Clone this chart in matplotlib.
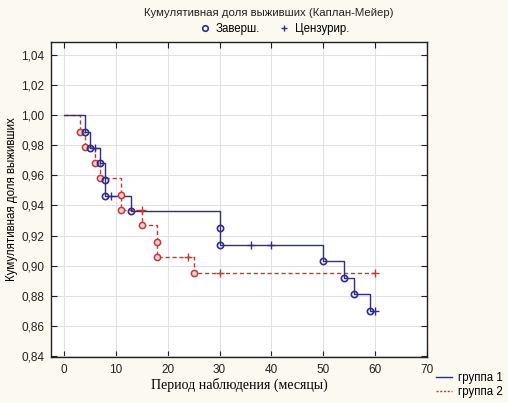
import matplotlib
matplotlib.use("Agg")
import matplotlib.pyplot as plt
from matplotlib.lines import Line2D
from matplotlib.ticker import FuncFormatter

# Group 1 (solid blue)
g1_event_t = [4, 5, 7, 8, 8, 13, 30, 30, 50, 54, 56, 59]
g1_event_s = [0.989, 0.978, 0.968, 0.957, 0.946, 0.936, 0.925, 0.914, 0.903, 0.892, 0.881, 0.870]
g1_cens_t = [6, 9, 36, 40, 60]
g1_cens_s = [0.978, 0.946, 0.914, 0.914, 0.870]
g1_end = 60

# Group 2 (dashed red)
g2_event_t = [3, 4, 6, 7, 11, 11, 15, 18, 18, 25]
g2_event_s = [0.989, 0.979, 0.968, 0.958, 0.947, 0.937, 0.927, 0.916, 0.906, 0.895]
g2_cens_t = [15, 24, 30, 60]
g2_cens_s = [0.937, 0.906, 0.895, 0.895]
g2_end = 60

x_ticks = [0, 10, 20, 30, 40, 50, 60, 70]
y_ticks = [0.84, 0.86, 0.88, 0.90, 0.92, 0.94, 0.96, 0.98, 1.00, 1.02, 1.04]

BLUE = "#2d2d8f"
RED = "#c23b3b"
SANS = "Liberation Sans"
SERIF = "Liberation Serif"

fig = plt.figure(figsize=(5.08, 4.03), dpi=100)
fig.patch.set_facecolor("#fcf9f1")
ax = fig.add_axes([51/508, 1-357/403, 376/508, 315/403])
ax.set_facecolor("white")

def steps(ts, ss, end):
    xs = [0] + list(ts) + [end]
    ys = [1.0] + list(ss) + [ss[-1]]
    return xs, ys

x2, y2 = steps(g2_event_t, g2_event_s, g2_end)
ax.step(x2, y2, where="post", color=RED, lw=1.0, ls=(0, (3, 2)), zorder=3)
x1, y1 = steps(g1_event_t, g1_event_s, g1_end)
ax.step(x1, y1, where="post", color=BLUE, lw=1.0, zorder=4)

ax.plot(g2_event_t, g2_event_s, "o", ms=4.5, mfc="#f3d0d0", mec=RED, mew=1.1, ls="none", zorder=5)
ax.plot(g2_cens_t, g2_cens_s, "+", ms=6, mec=RED, mew=1.0, ls="none", zorder=5)
ax.plot(g1_event_t, g1_event_s, "o", ms=4.5, mfc="none", mec=BLUE, mew=1.2, ls="none", zorder=6)
ax.plot(g1_cens_t, g1_cens_s, "+", ms=6, mec=BLUE, mew=1.0, ls="none", zorder=6)

ax.set_xlim(-2.5, 70)
ax.set_ylim(0.8393, 1.0486)
ax.set_xticks(x_ticks)
ax.set_yticks(y_ticks)
ax.yaxis.set_major_formatter(FuncFormatter(lambda v, p: f"{v:.2f}".replace(".", ",")))
ax.grid(True, color="#e2e2e2", lw=0.8)
ax.set_axisbelow(True)
ax.tick_params(direction="in", length=4, top=True, right=True, labelsize=8.5,
               colors="#222222", pad=5)
for lab in ax.get_xticklabels() + ax.get_yticklabels():
    lab.set_family(SANS)
for sp in ax.spines.values():
    sp.set_color("#222222")
    sp.set_linewidth(1.0)

ax.set_xlabel("Период наблюдения (месяцы)", family=SERIF, fontsize=10, labelpad=1)
ax.set_ylabel("Кумулятивная доля выживших", family=SANS, fontsize=8.3)
ax.yaxis.set_label_coords((18-51)/376, 0.5)

fig.text(0.529, 1-13/403, "Кумулятивная доля выживших (Каплан-Мейер)",
         family=SANS, fontsize=8.2, ha="center", va="center", color="#222222")

h1 = Line2D([], [], marker="o", ms=4, mfc="none", mec=BLUE, mew=1.2, ls="none")
h2 = Line2D([], [], marker="+", ms=5, mec=BLUE, mew=1.0, ls="none")
leg = fig.legend([h1, h2], ["Заверш.", "Цензурир."], loc="center",
                 bbox_to_anchor=(0.54, 1-29/403), ncol=2, frameon=False,
                 prop={"family": SANS, "size": 8.3}, handlelength=1.0,
                 handletextpad=0.4, columnspacing=1.6)

h3 = Line2D([], [], color=BLUE, lw=1.0)
h4 = Line2D([], [], color=RED, lw=1.0, ls=(0, (1.5, 1.2)))
leg2 = fig.legend([h3, h4], ["группа 1", "группа 2"], loc="center",
                  bbox_to_anchor=(469/508, 1-385/403), frameon=False,
                  prop={"family": SANS, "size": 8.3}, handlelength=1.4,
                  handletextpad=0.5, labelspacing=0.15)

fig.savefig("out.png", dpi=100, facecolor=fig.get_facecolor())
